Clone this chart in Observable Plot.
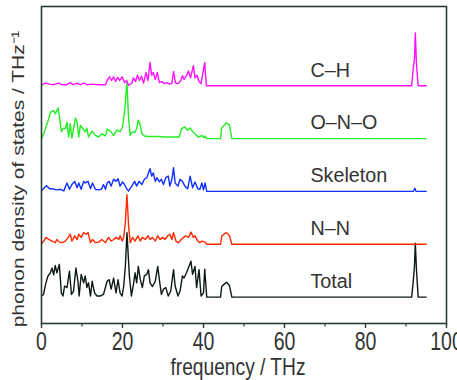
<!DOCTYPE html>
<html>
<head>
<meta charset="utf-8">
<script src="https://cdn.jsdelivr.net/npm/d3@7"></script>
<script src="https://cdn.jsdelivr.net/npm/@observablehq/plot@0.6"></script>
<style>
  html, body { margin: 0; padding: 0; background: #fff; }
  #chart svg { display: block; }
  #chart svg text { font-family: "Liberation Sans", Arial, Helvetica, sans-serif; }
</style>
</head>
<body>
<div id="chart"></div>
<script>
// ---------- data ----------
const seriesNames = ["Total", "N–N", "Skeleton", "O–N–O", "C–H"];
const seriesOffsets = [0.5, 1.5, 2.5, 3.5, 4.5];
const seriesColors = ["#0d1a12", "#ff2a00", "#1030ff", "#22ee22", "#ff10ff"];

const xTicks = [0, 20, 40, 60, 80, 100];
const xMinorTicks = [10, 30, 50, 70, 90];

// [frequency THz, DOS] pairs
const totalPts = [[0,0.02],[0.5,0.05],[1,0.24],[1.6,0.4],[2.2,0.46],[2.6,0.55],[3,0.42],[3.4,0.6],[3.8,0.46],[4.4,0.62],[4.9,0.08],[5.3,0.02],[5.7,0.21],[6.3,0.18],[6.9,0.49],[7.4,0.05],[7.9,0.11],[8.5,0.55],[9,0.3],[9.3,0.02],[9.8,0.43],[10.4,0.27],[10.8,0.4],[11.2,0.18],[11.6,0.27],[12.1,0.02],[12.5,0.3],[13.1,0.08],[13.7,0.02],[14.5,0.02],[15.3,0.05],[16.2,0.3],[16.7,0.33],[17.2,0.15],[17.8,0.36],[18.4,0.08],[18.9,0.33],[19.4,0.08],[19.9,0.02],[20.3,0.21],[20.7,0.58],[21.1,1.22],[21.7,0.4],[22.2,0.02],[22.7,0.24],[23.1,0.46],[23.5,0.27],[23.9,0.58],[24.4,0.33],[24.9,0.18],[25.4,0.4],[26,0.43],[26.4,0.52],[26.8,0.27],[27.4,0.2],[28.1,0.3],[28.7,0.58],[29.1,0.33],[29.6,0.05],[30.1,0.15],[30.7,0.18],[31.3,0.02],[31.9,0.11],[32.6,0.52],[33,0.21],[33.7,0.02],[34.2,0.11],[34.8,0.4],[35.2,0.36],[35.8,0.46],[36.4,0.58],[36.9,0.68],[37.3,0.43],[37.9,0.58],[38.3,0.18],[38.9,0.52],[39.4,0.02],[40,0.08],[40.3,0.53],[40.8,0],[44.2,0],[44.5,0.2],[45.2,0.25],[45.7,0.28],[46.4,0.22],[47,0],[91.4,0],[91.8,0.3],[92.1,0.6],[92.3,1.02],[92.6,0.5],[93,0],[95,0]];

const nnPts = [[0,0.01],[0.5,0.05],[1.1,0.13],[1.8,0.09],[2.6,0.06],[3.4,0.03],[3.8,0.09],[4.4,0.04],[5.1,0.03],[5.9,0.06],[6.6,0.13],[7.1,0.19],[7.5,0.06],[8.2,0.16],[8.8,0.09],[9.2,0.19],[9.8,0.13],[10.4,0.22],[11,0.19],[11.5,0.22],[12.1,0.03],[12.6,0.09],[13.3,0.03],[14.1,0.04],[14.9,0.09],[15.8,0.03],[16.2,0.09],[16.6,0.13],[17.2,0.06],[17.8,0.09],[18.4,0.13],[19.1,0.09],[19.4,0.16],[19.9,0.06],[20.3,0.13],[20.7,0.41],[21.1,0.94],[21.5,0.35],[21.9,0.03],[22.5,0.13],[23.1,0.06],[23.8,0.16],[24.4,0.06],[24.9,0.13],[25.6,0.09],[26.3,0.16],[26.8,0.09],[27.4,0.13],[28.1,0.06],[28.7,0.16],[29.3,0.09],[29.9,0.13],[30.5,0.09],[31.2,0.16],[31.7,0.19],[32.2,0.09],[32.6,0.22],[33.2,0.06],[33.8,0.03],[34.5,0.09],[35.1,0.13],[35.6,0.16],[36.3,0.13],[36.9,0.23],[37.5,0.13],[37.9,0.16],[38.6,0.06],[39.1,0.03],[39.7,0.06],[40.4,0.04],[40.8,0],[44.2,0],[44.5,0.15],[45.2,0.2],[45.7,0.22],[46.4,0.16],[47,0],[95,0]];

const skeletonPts = [[0,0.01],[0.6,0.06],[1.2,0.11],[2,0.05],[2.6,0.05],[3.8,0.03],[4.7,0.04],[5.5,0.01],[6.3,0.16],[6.9,0.04],[7.5,0.13],[8.2,0.19],[8.8,0.07],[9.2,0.16],[9.8,0.04],[10.4,0.19],[10.8,0.16],[11.5,0.19],[12.1,0.05],[12.6,0.16],[13.3,0.04],[13.9,0.03],[14.8,0.04],[15.3,0.13],[15.8,0.04],[16.2,0.16],[16.7,0.19],[17.2,0.1],[17.8,0.23],[18.4,0.19],[18.9,0.24],[19.4,0.1],[20,0.18],[20.5,0.13],[21.1,0.04],[21.5,0.01],[22.3,0.1],[23,0.19],[23.5,0.1],[24.1,0.19],[24.8,0.13],[25.4,0.23],[26,0.26],[26.4,0.35],[26.8,0.43],[27.2,0.29],[27.6,0.35],[28.1,0.19],[28.5,0.26],[29.1,0.18],[29.6,0.23],[30.1,0.13],[30.7,0.26],[31.3,0.29],[31.7,0.1],[32.2,0.23],[32.6,0.45],[33,0.16],[33.7,0.1],[34.2,0.23],[34.8,0.19],[35.4,0.1],[36.1,0.05],[36.7,0.29],[37.3,0.07],[37.9,0.18],[38.6,0.05],[39.1,0.04],[39.6,0.16],[40,0.03],[40.4,0.16],[40.8,0],[91.8,0],[92.2,0.06],[92.5,0],[95,0]];

const onoPts = [[0,0.01],[0.5,0.08],[1,0.19],[1.8,0.38],[2.2,0.5],[3,0.53],[3.4,0.47],[4.1,0.58],[4.4,0.44],[4.9,0.13],[5.3,0.19],[5.9,0.19],[6.3,0.31],[6.7,0.03],[7.1,0.28],[7.5,0.01],[8.4,0.39],[8.8,0.31],[9.2,0.03],[9.6,0.25],[10.2,0.19],[10.8,0.13],[11.2,0.2],[11.6,0.03],[12.5,0.14],[13.3,0.06],[14.1,0.03],[14.9,0.09],[15.8,0.05],[16.2,0.18],[17,0.14],[17.8,0.06],[18.6,0.16],[19.4,0.13],[20,0.22],[20.5,0.5],[21.1,1.06],[21.5,0.38],[21.9,0.06],[22.3,0.12],[23.1,0.12],[23.5,0.19],[23.9,0.35],[24.4,0.25],[24.8,0.09],[25.4,0.05],[26.4,0.04],[28.9,0.04],[30.5,0.03],[32.2,0.03],[34,0.03],[34.6,0.19],[35.4,0.22],[36,0.16],[36.7,0.2],[37.3,0.13],[37.9,0.09],[38.7,0.03],[39.6,0.06],[40.1,0.02],[40.4,0.05],[40.8,0],[44.2,0],[44.5,0.2],[45.2,0.26],[45.6,0.3],[46.4,0.26],[47,0],[95,0]];

const chPts = [[0,0.01],[0.6,0.04],[1.2,0.05],[2,0.03],[3,0.02],[4.3,0.05],[5,0.02],[6.2,0.02],[7.1,0.06],[7.8,0.02],[8.8,0.05],[9.6,0.02],[10.4,0.05],[11.2,0.02],[12.5,0.03],[14,0.02],[15.8,0.02],[16.2,0.1],[16.8,0.17],[17.3,0.1],[17.8,0.17],[18.3,0.08],[18.8,0.16],[19.3,0.1],[19.9,0.17],[20.5,0.06],[21,0.1],[21.5,0.01],[22.3,0.05],[22.7,0.15],[23.2,0.08],[23.7,0.2],[24.2,0.1],[24.7,0.18],[25.2,0.05],[25.8,0.25],[26.3,0.1],[26.8,0.44],[27.2,0.2],[27.6,0.25],[28.1,0.12],[28.6,0.25],[29.1,0.06],[29.7,0.08],[30.3,0.04],[31,0.06],[31.6,0.03],[32.2,0.05],[32.6,0.27],[33.1,0.05],[33.7,0.04],[34.4,0.1],[34.8,0.19],[35.2,0.12],[35.8,0.19],[36.3,0.28],[36.8,0.15],[37.5,0.38],[37.9,0.15],[38.4,0.2],[38.9,0.08],[39.4,0.04],[40.3,0.44],[40.7,0],[91.4,0],[91.8,0.34],[92.1,0.5],[92.3,1.0],[92.6,0.4],[93,0],[95,0]];

const seriesPts = [totalPts, nnPts, skeletonPts, onoPts, chPts];

const xLabel = "frequency / THz";
const yLabel = "phonon density of states / THz⁻¹";

// ---------- layout constants ----------
const W = 457, H = 380;
const FRAME = "#2a3d33";
const TEXT = "#333333";
const FONT = "Liberation Sans, Arial, Helvetica, sans-serif";
const labelX = 66.4;      // x position (THz) of curve labels
const labelLift = 0.3;    // label height above each baseline

// ---------- build table ----------
const rows = seriesNames.flatMap((name, i) =>
  seriesPts[i].map(([f, v]) => ({series: name, f, y: v + seriesOffsets[i]}))
);
const labelRows = seriesNames.map((name, i) => ({name, x: labelX, y: seriesOffsets[i] + labelLift}));

const svg = Plot.plot({
  width: W,
  height: H,
  marginLeft: 41,
  marginRight: 11,
  marginTop: 6,
  marginBottom: 57,
  style: {fontFamily: FONT, color: TEXT, background: "#fff"},
  x: {domain: [0, 100]},
  y: {domain: [0, 6], axis: null},
  color: {domain: seriesNames, range: seriesColors},
  marks: [
    Plot.line(rows, {x: "f", y: "y", z: "series", stroke: "series", strokeWidth: 1.4, curve: "linear"}),
    Plot.text(labelRows, {x: "x", y: "y", text: "name", textAnchor: "start", lineAnchor: "middle", fontSize: 21, fill: TEXT}),
    Plot.frame({stroke: FRAME, strokeWidth: 1.6}),
    Plot.axisX({ticks: xTicks, tickSize: 5, tickPadding: 4, fontSize: 25, stroke: FRAME, strokeWidth: 1.4, fill: TEXT, label: null}),
    Plot.axisX({ticks: xMinorTicks, tickSize: 3.5, tickFormat: () => "", stroke: FRAME, strokeWidth: 1.2, label: null}),
    Plot.text([xLabel], {frameAnchor: "bottom", textAnchor: "middle", lineAnchor: "middle", dy: 44, dx: -6, fontSize: 24, fill: TEXT}),
    Plot.text([yLabel], {frameAnchor: "left", textAnchor: "middle", lineAnchor: "middle", rotate: -90, dx: -23, dy: 14, fontSize: 21, fill: TEXT})
  ]
});

// condense text horizontally, as in the reference
function squash(t, sx, sy) {
  const tr = t.getAttribute("transform");
  if (tr) {
    t.setAttribute("transform", tr + ` scale(${sx},${sy})`);
  } else {
    const x = +t.getAttribute("x") || 0, y = +t.getAttribute("y") || 0;
    t.setAttribute("transform", `translate(${x},${y}) scale(${sx},${sy}) translate(${-x},${-y})`);
  }
}
const tickStrings = xTicks.map(String);
svg.querySelectorAll("text").forEach(t => {
  const s = t.textContent.trim();
  if (tickStrings.includes(s)) squash(t, 0.78, 1);
  else if (s === xLabel) squash(t, 0.8, 1);
  else if (s === yLabel) squash(t, 1, 0.8);
  else if (seriesNames.includes(s)) squash(t, 0.94, 1);
});

document.getElementById("chart").appendChild(svg);
</script>
</body>
</html>
